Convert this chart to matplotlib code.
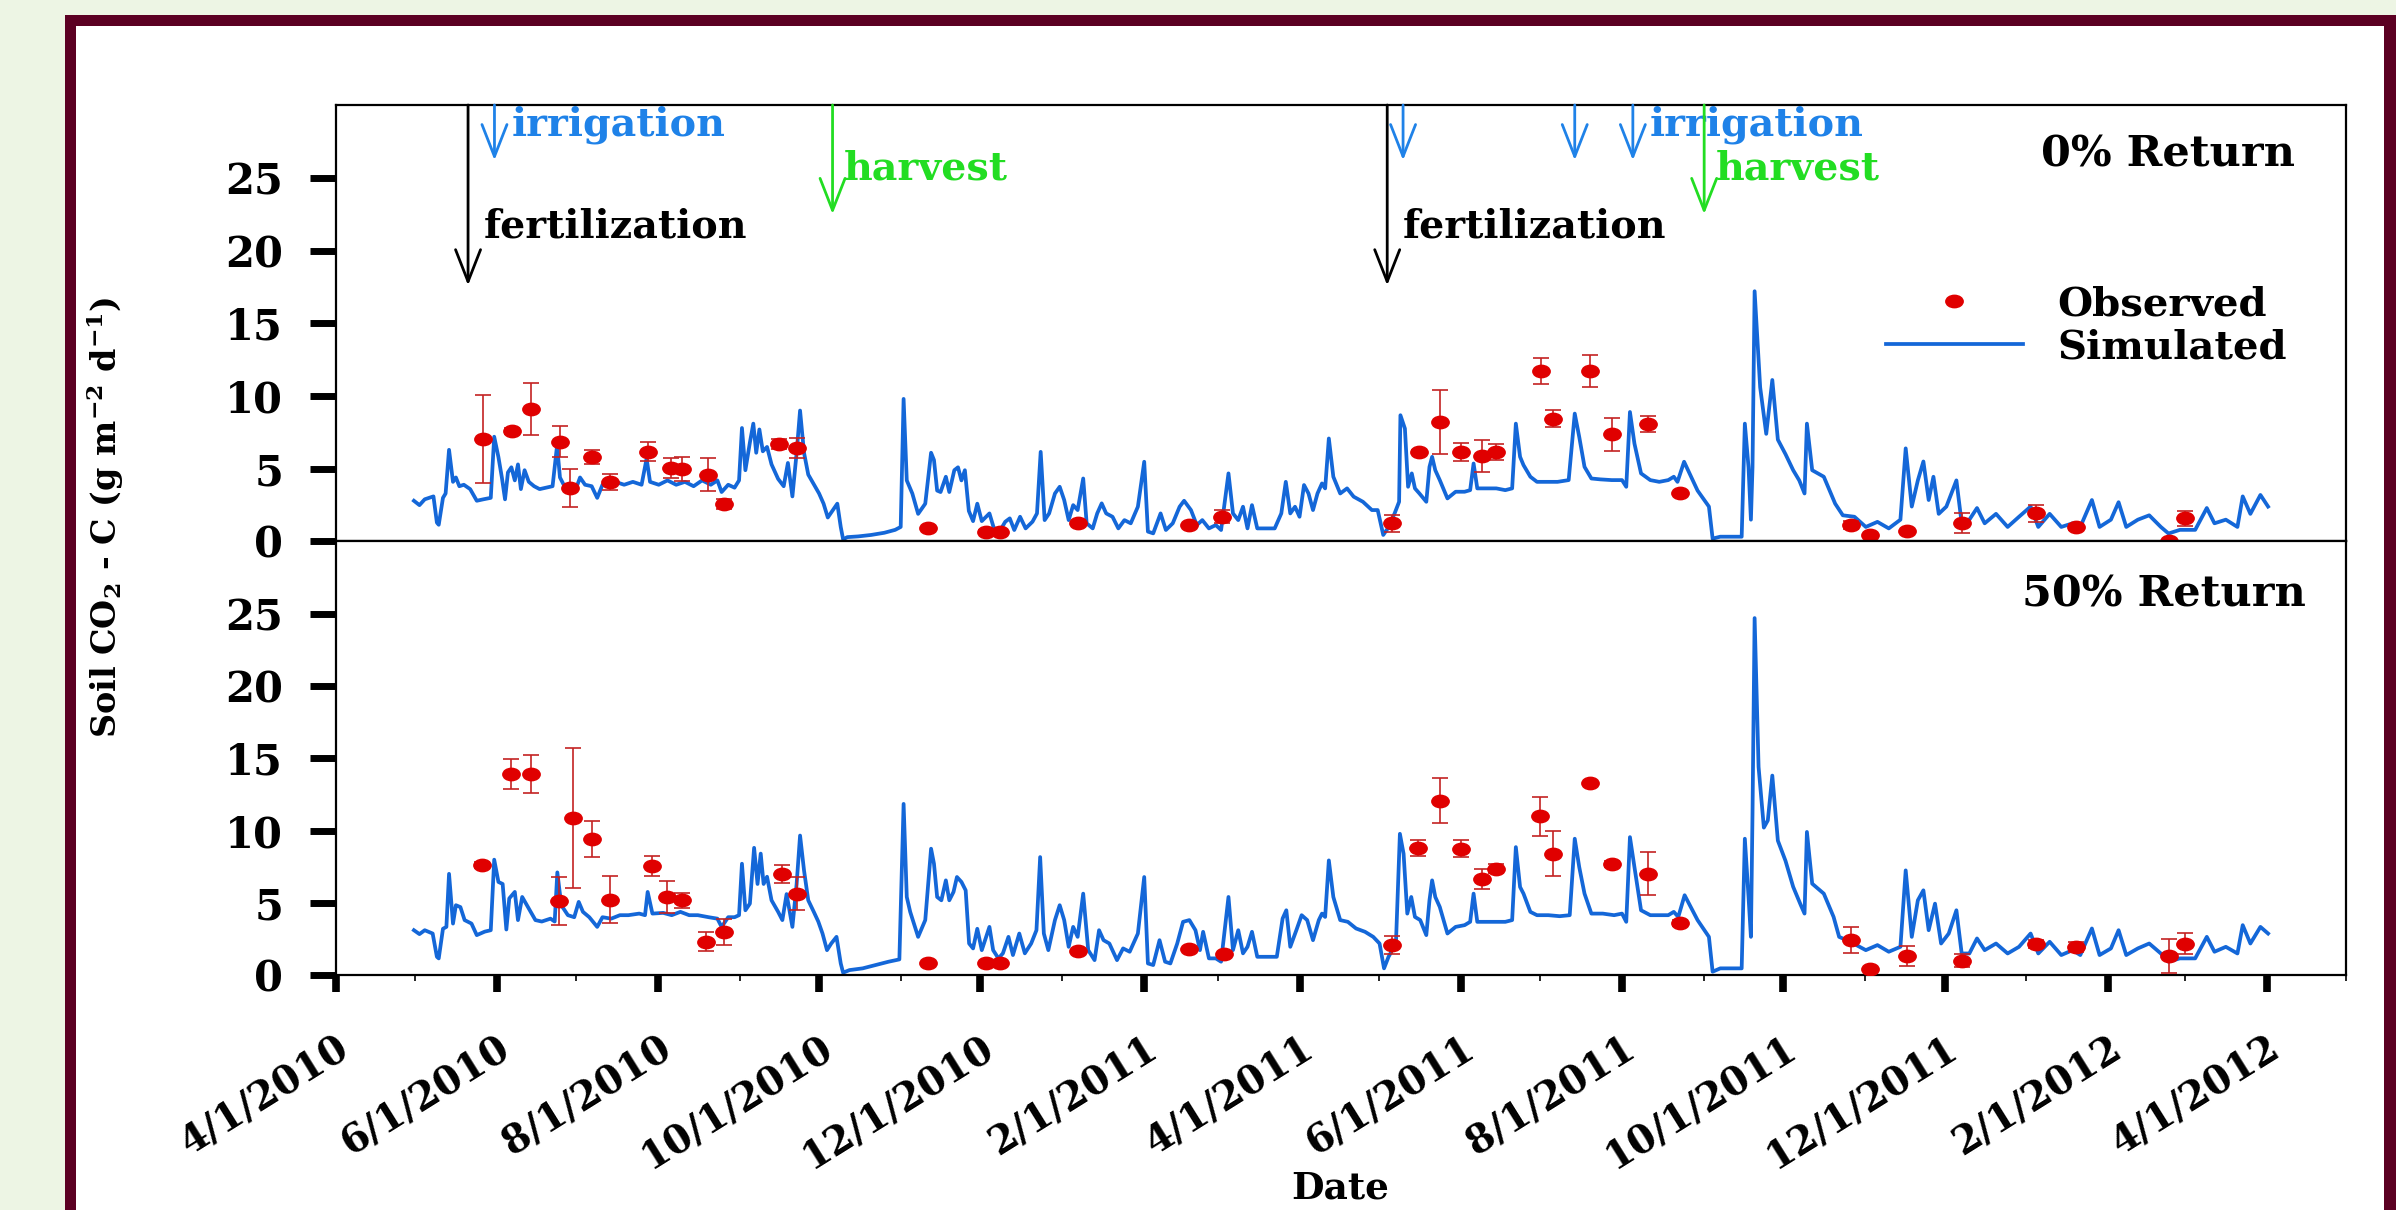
import datetime as dt
import matplotlib
matplotlib.use('Agg')
import matplotlib.pyplot as plt
import matplotlib.dates as mdates
from matplotlib.lines import Line2D
from matplotlib.patches import Rectangle
from matplotlib.path import Path
from matplotlib.transforms import Affine2D

# all days are counted from 4/1/2010
START = dt.datetime(2010, 4, 1)

# simulated soil CO2-C flux, 0% residue return (day, value)
sim_0 = [
    (29.5, 2.8), (31.6, 2.5), (33.6, 2.9), (36.9, 3.1), (38.2, 1.3), (38.9, 1.15), (40.5, 3.0), (41.5, 3.3),
    (42.8, 6.3), (44.3, 4.1), (45.4, 4.4), (46.7, 3.8), (48.4, 3.9), (50.8, 3.6), (53.3, 2.8), (55.8, 2.9),
    (58.6, 3.0), (59.9, 7.2), (61.5, 5.8), (62.8, 4.4), (64.0, 2.9), (65.1, 4.75), (66.4, 5.1), (67.7, 4.2),
    (68.9, 5.3), (70.0, 3.6), (71.4, 4.9), (73.0, 4.1), (75.0, 3.8), (77.1, 3.6), (79.6, 3.7), (82.0, 3.8),
    (83.7, 6.6), (84.8, 4.4), (86.5, 3.8), (88.6, 3.9), (91.0, 3.7), (92.4, 4.4), (94.3, 3.9), (96.8, 3.8),
    (98.9, 3.0), (100.9, 3.9), (103.4, 3.8), (105.8, 4.1), (109.1, 3.9), (112.4, 4.1), (115.7, 3.9), (117.6, 5.7),
    (118.9, 4.1), (122.2, 3.9), (125.5, 4.2), (128.8, 3.9), (132.1, 4.1), (135.4, 3.8), (138.6, 4.2), (141.9, 3.9),
    (144.4, 4.2), (146.0, 3.4), (148.5, 3.9), (150.9, 3.7), (152.6, 4.2), (153.7, 7.8), (155.0, 4.9), (156.7, 6.8),
    (158.0, 8.1), (159.1, 6.1), (160.3, 7.7), (161.6, 6.2), (163.2, 6.5), (164.9, 5.3), (167.4, 4.3), (169.5, 3.8),
    (171.1, 5.4), (172.8, 3.1), (174.4, 6.1), (175.7, 9.0), (177.2, 6.1), (178.8, 4.6), (181.3, 3.8), (182.9, 3.3),
    (184.6, 2.6), (186.2, 1.65), (187.9, 2.1), (189.8, 2.6), (191.1, 1.0), (192.0, 0.15), (193.6, 0.3), (197.7, 0.35),
    (202.6, 0.45), (207.6, 0.6), (211.7, 0.8), (213.8, 1.0), (214.9, 9.8), (216.1, 4.2), (218.2, 3.3), (220.4, 1.9),
    (223.1, 2.6), (225.3, 6.1), (226.4, 5.6), (227.6, 3.5), (228.9, 3.4), (230.9, 4.45), (232.2, 3.4), (234.1, 4.9),
    (235.5, 5.1), (236.8, 4.2), (238.1, 4.9), (239.6, 2.1), (241.2, 1.4), (242.8, 2.6), (244.5, 1.4),
    (247.4, 1.93), (249.1, 0.9), (251.7, 0.84), (253.4, 1.36), (255.1, 1.59), (256.8, 0.79), (259.0, 1.7), (261.1, 0.9),
    (263.7, 1.36), (265.4, 1.93), (266.8, 6.16), (268.3, 1.47), (270.0, 1.93), (272.2, 3.3), (274.0, 3.76), (275.7, 2.85),
    (277.4, 1.47), (279.1, 2.5), (280.8, 2.16), (282.9, 4.33), (284.2, 1.25), (286.5, 0.9), (288.2, 1.93), (289.9, 2.62),
    (291.6, 1.93), (294.0, 1.7), (296.2, 0.9), (298.5, 1.47), (300.9, 1.25), (303.6, 2.39), (306.0, 5.48), (307.4, 0.68),
    (309.4, 0.56), (312.2, 1.93), (314.2, 0.79), (316.8, 1.25), (319.4, 2.39), (321.1, 2.8), (323.7, 2.16), (325.9, 1.13),
    (328.0, 1.47), (330.5, 0.9), (333.1, 1.13), (335.1, 0.79), (337.9, 4.68), (339.6, 1.93), (341.6, 1.47), (343.4, 2.39),
    (345.1, 0.9), (346.8, 2.5), (348.8, 0.9), (351.9, 0.9), (355.4, 0.9), (357.9, 1.93), (359.6, 4.1), (361.3, 1.93),
    (363.1, 2.39), (364.8, 1.7), (366.5, 3.88), (368.2, 3.3), (369.9, 2.16), (371.6, 3.3), (373.3, 3.99), (374.5, 3.65),
    (375.9, 7.08), (377.6, 4.45), (380.2, 3.3), (382.8, 3.65), (385.3, 3.08), (388.8, 2.73), (392.2, 2.16), (394.4, 2.16),
    (396.5, 0.45), (398.2, 0.9), (400.8, 1.93), (402.5, 2.73), (403.0, 8.68), (404.7, 7.76), (405.9, 3.76), (407.3, 4.68),
    (408.5, 3.65), (410.2, 3.3), (412.8, 2.73), (414.0, 5.13), (415.0, 5.82), (416.2, 4.9), (417.9, 4.22), (420.8, 2.96),
    (423.9, 3.42), (427.3, 3.42), (429.4, 3.53), (430.7, 5.36), (432.1, 3.65), (435.9, 3.65), (439.3, 3.65), (442.7, 3.53),
    (445.3, 3.65), (446.7, 8.1), (448.3, 5.82), (449.6, 5.25), (452.2, 4.45), (454.7, 4.1), (458.2, 4.1), (462.5, 4.1),
    (466.7, 4.22), (469.0, 8.79), (470.7, 7.19), (472.7, 5.13), (475.3, 4.33), (478.7, 4.27), (483.0, 4.22), (486.9, 4.22),
    (488.5, 3.76), (489.9, 8.9), (491.6, 6.73), (494.1, 4.68), (497.6, 4.22), (501.0, 4.1), (504.4, 4.22), (506.5, 4.45),
    (507.9, 4.1), (510.4, 5.48),
    (515.5, 3.5), (519.8, 2.4), (521.2, 0.2), (524.1, 0.33), (532.2, 0.33), (533.4, 8.1), (534.8, 5.1), (535.7, 1.5),
    (536.3, 5.1), (537.1, 17.2), (539.2, 10.6), (541.5, 7.4), (543.8, 11.1), (545.9, 7.0), (548.8, 6.0), (551.7, 4.9),
    (554.0, 4.2), (556.0, 3.3), (556.9, 8.1), (558.9, 4.9), (563.3, 4.45), (567.6, 2.6), (570.5, 1.8), (574.9, 1.7),
    (579.2, 1.0), (583.6, 1.35), (587.9, 0.9), (592.3, 1.5), (594.3, 6.4), (596.6, 2.4), (598.9, 4.2), (601.0, 5.5),
    (603.0, 2.85), (604.8, 4.45), (606.8, 1.9), (609.7, 2.4), (613.5, 4.2), (615.5, 1.25), (618.4, 1.5), (621.3, 2.3),
    (624.2, 1.25), (628.5, 1.9), (632.9, 1.0), (637.2, 1.7), (641.6, 2.4), (644.5, 1.0), (648.8, 1.9), (653.2, 1.0),
    (657.5, 1.25), (660.4, 1.0), (664.8, 2.85), (667.7, 1.0), (672.0, 1.5), (674.9, 2.7), (677.8, 1.0), (682.2, 1.5),
    (686.5, 1.8), (690.9, 1.0), (693.8, 0.55), (698.1, 0.8), (703.9, 0.8), (708.3, 2.3), (711.2, 1.25), (715.5, 1.5),
    (719.9, 1.0), (721.9, 3.1), (724.8, 1.9), (728.6, 3.2), (731.5, 2.4),
]

# simulated soil CO2-C flux, 50% residue return (day, value)
sim_50 = [
    (29.5, 3.1), (31.6, 2.83), (33.6, 3.1), (36.6, 2.87), (38.2, 1.26), (38.9, 1.15), (40.5, 3.2), (41.8, 3.33),
    (42.8, 7.0), (44.3, 3.56), (45.4, 4.83), (47.1, 4.7), (48.7, 3.8), (51.3, 3.56), (53.3, 2.76), (56.3, 3.0),
    (58.6, 3.1), (59.9, 7.98), (61.5, 6.44), (63.1, 6.3), (64.5, 3.15), (65.6, 5.3), (67.7, 5.75), (68.9, 3.8),
    (70.5, 5.4), (72.7, 4.7), (75.5, 3.8), (77.9, 3.7), (81.2, 3.9), (82.8, 3.7), (83.8, 7.1), (85.3, 4.83),
    (87.8, 4.14), (90.2, 4.0), (91.9, 5.06), (93.5, 4.37), (95.9, 4.0), (98.9, 3.33), (100.9, 4.0), (104.2, 3.9),
    (107.5, 4.14), (110.7, 4.14), (114.8, 4.25), (117.0, 4.14), (118.0, 5.75), (119.8, 4.25), (123.9, 4.3), (127.1, 4.14),
    (130.4, 4.37), (133.7, 4.14), (137.0, 4.14), (141.1, 4.0), (144.4, 3.9), (146.0, 3.33), (148.5, 4.0), (150.9, 4.0),
    (152.6, 4.14), (153.7, 7.7), (155.0, 4.48), (156.7, 4.94), (158.3, 8.8), (159.6, 6.3), (160.8, 8.4), (161.9, 6.3),
    (163.2, 6.8), (164.9, 5.17), (167.4, 4.37), (169.0, 3.8), (170.6, 5.6), (172.8, 3.33), (174.4, 6.3), (175.7, 9.65),
    (177.2, 7.24), (178.8, 5.17), (180.9, 4.37), (182.6, 3.7), (184.2, 2.87), (185.9, 1.72), (187.5, 2.18), (189.5, 2.64),
    (191.1, 0.8), (192.0, 0.16), (194.4, 0.34), (199.4, 0.46), (204.3, 0.69), (209.2, 0.92), (213.3, 1.08), (214.9, 11.84),
    (216.1, 5.4), (217.4, 4.37), (220.4, 2.64), (223.1, 3.8), (225.3, 8.74), (226.4, 7.7), (227.6, 5.4), (229.2, 5.17),
    (230.9, 6.55), (232.2, 5.17), (233.8, 5.75), (235.1, 6.78), (236.8, 6.44), (238.4, 5.86), (239.7, 2.18), (241.2, 1.84),
    (242.8, 3.2), (244.5, 1.72),
    (247.4, 3.33), (248.8, 1.72), (250.8, 1.15), (252.5, 1.5), (254.6, 2.64), (256.3, 1.38), (258.7, 2.87), (260.8, 1.5),
    (263.2, 2.18), (265.2, 3.1), (266.6, 8.16), (268.0, 2.87), (269.7, 1.72), (272.2, 3.8), (274.0, 4.83), (275.7, 3.8),
    (277.4, 1.95), (279.1, 3.33), (280.8, 2.64), (282.9, 5.63), (284.8, 1.72), (287.2, 1.03), (288.9, 3.1), (290.6, 2.41),
    (292.8, 2.18), (295.7, 1.03), (298.0, 1.84), (300.5, 1.61), (303.6, 2.87), (306.0, 6.78), (307.4, 0.8), (309.4, 0.69),
    (311.8, 2.41), (313.9, 0.92), (315.9, 0.8), (318.5, 2.18), (320.7, 3.68), (323.1, 3.8), (325.4, 3.1), (327.1, 1.72),
    (328.3, 2.99), (330.5, 1.15), (333.1, 1.15), (335.1, 0.92), (337.9, 5.4), (339.6, 1.72), (341.6, 3.1), (343.4, 1.5),
    (345.1, 1.95), (346.8, 2.99), (348.8, 1.26), (351.9, 1.26), (356.2, 1.26), (358.4, 3.91), (359.8, 4.48), (361.3, 1.95),
    (363.6, 3.1), (365.6, 4.14), (367.7, 3.8), (369.9, 2.41), (372.1, 3.8), (373.3, 4.25), (374.5, 4.02), (375.9, 7.93),
    (377.6, 5.4), (380.2, 3.8), (383.1, 3.68), (386.2, 3.22), (389.6, 2.99), (392.7, 2.64), (395.1, 2.18), (396.8, 0.46),
    (398.5, 1.26), (401.3, 2.18), (402.8, 9.77), (404.2, 8.39), (405.6, 4.25), (407.1, 5.4), (408.5, 4.02), (410.5, 3.8),
    (412.8, 2.76), (414.0, 5.17), (415.0, 6.55), (416.2, 5.4), (417.9, 4.71), (420.8, 2.87), (423.9, 3.33), (427.3, 3.45),
    (429.4, 3.68), (430.7, 5.63), (432.1, 3.68), (435.9, 3.68), (439.3, 3.68), (442.7, 3.68), (445.3, 3.8), (446.7, 8.85),
    (448.3, 6.09), (449.6, 5.63), (452.2, 4.37), (454.7, 4.14), (459.0, 4.14), (463.3, 4.07), (467.1, 4.14), (469.0, 9.43),
    (470.7, 7.47), (472.7, 5.63), (475.3, 4.25), (479.6, 4.25), (483.9, 4.14), (486.9, 4.25), (488.5, 3.68), (489.9, 9.54),
    (491.6, 7.47), (494.1, 4.48), (497.6, 4.14), (501.0, 4.14), (504.4, 4.14), (506.5, 4.37), (508.2, 4.02), (510.6, 5.52),
    (515.5, 3.8), (519.8, 2.64), (521.2, 0.23), (524.1, 0.46), (532.2, 0.46), (533.4, 9.43), (534.8, 5.4), (535.7, 2.64),
    (536.3, 11.15), (537.1, 24.7), (538.6, 14.4), (540.6, 10.2), (542.1, 10.7), (543.8, 13.8), (545.9, 9.3), (548.8, 7.9),
    (551.7, 6.1), (554.6, 4.83), (556.0, 4.25), (556.9, 9.9), (558.9, 6.32), (563.3, 5.63), (567.0, 4.02), (569.1, 2.64),
    (573.5, 2.28), (579.2, 1.72), (583.6, 2.07), (587.9, 1.61), (592.3, 1.95), (594.3, 7.24), (596.6, 2.64), (598.9, 5.17),
    (601.0, 5.86), (603.0, 3.1), (605.4, 4.94), (607.7, 2.18), (610.6, 2.87), (613.5, 4.48), (615.5, 1.49), (618.4, 1.49),
    (621.3, 2.53), (624.2, 1.72), (628.5, 2.18), (632.9, 1.49), (637.2, 1.95), (641.6, 2.87), (644.5, 1.49), (648.8, 2.3),
    (653.2, 1.38), (657.5, 1.72), (660.4, 1.38), (664.8, 3.22), (667.7, 1.38), (672.0, 1.84), (674.9, 3.1), (677.8, 1.38),
    (682.2, 1.84), (686.5, 2.18), (690.9, 1.49), (693.8, 0.92), (698.1, 1.15), (703.9, 1.15), (708.3, 2.64), (711.2, 1.61),
    (715.5, 1.95), (719.9, 1.49), (721.9, 3.45), (724.8, 2.18), (728.6, 3.33), (731.5, 2.87),
]

# observed flux (day, mean, error)
obs_0 = [
    (55.8, 7.04, 3.0), (66.6, 7.59, 0.2), (73.8, 9.1, 1.8), (84.8, 6.86, 1.05), (88.6, 3.7, 1.3),
    (97.0, 5.83, 0.48), (103.8, 4.1, 0.57), (118.1, 6.17, 0.65), (126.8, 5.05, 0.7), (130.9, 4.98, 0.8),
    (140.8, 4.59, 1.14), (146.8, 2.57, 0.37), (167.8, 6.7, 0.35), (174.4, 6.42, 0.7), (224.0, 0.9, 0.0),
    (246.0, 0.67, 0.15), (251.5, 0.67, 0.15), (280.8, 1.25, 0.0), (322.8, 1.13, 0.0), (335.6, 1.7, 0.45),
    (399.9, 1.25, 0.6), (410.2, 6.16, 0.15), (417.9, 8.22, 2.2), (426.0, 6.16, 0.64), (433.8, 5.86, 1.1),
    (439.0, 6.16, 0.55), (456.1, 11.72, 0.87), (460.7, 8.45, 0.57), (474.9, 11.72, 1.12), (483.0, 7.37, 1.14),
    (496.7, 8.1, 0.55), (508.7, 3.3, 0.0), (573.7, 1.13, 0.3), (580.9, 0.45, 0.0), (594.7, 0.74, 0.0),
    (615.6, 1.25, 0.7), (643.8, 1.93, 0.6), (658.9, 1.0, 0.2), (694.1, 0.06, 0.0), (699.9, 1.59, 0.53),
]
obs_50 = [
    (55.4, 7.59, 0.2), (66.4, 13.9, 1.06), (74.0, 13.9, 1.3), (84.6, 5.13, 1.64), (89.9, 10.85, 4.85),
    (97.0, 9.43, 1.26), (103.8, 5.22, 1.6), (119.8, 7.52, 0.7), (125.5, 5.4, 1.1), (130.9, 5.17, 0.5),
    (139.9, 2.3, 0.65), (146.8, 2.99, 0.9), (168.8, 7.0, 0.6), (174.7, 5.63, 1.15), (224.0, 0.85, 0.0),
    (246.0, 0.85, 0.0), (251.5, 0.85, 0.0), (280.8, 1.66, 0.0), (322.8, 1.77, 0.0), (336.2, 1.43, 0.0),
    (399.9, 2.07, 0.63), (409.8, 8.8, 0.57), (417.9, 12.07, 1.55), (426.0, 8.74, 0.57), (433.8, 6.67, 0.69),
    (439.0, 7.36, 0.3), (455.9, 10.97, 1.36), (460.9, 8.39, 1.56), (474.9, 13.26, 0.0), (483.0, 7.66, 0.2),
    (496.9, 7.01, 1.47), (508.7, 3.61, 0.2), (573.7, 2.41, 0.92), (580.9, 0.39, 0.0), (594.7, 1.31, 0.67),
    (615.6, 0.97, 0.45), (643.8, 2.14, 0.3), (658.9, 1.95, 0.35), (694.1, 1.31, 1.2), (699.9, 2.18, 0.74),
]

tick_labels = ['4/1/2010', '6/1/2010', '8/1/2010', '10/1/2010', '12/1/2010', '2/1/2011', '4/1/2011',
               '6/1/2011', '8/1/2011', '10/1/2011', '12/1/2011', '2/1/2012', '4/1/2012']
yticks = [0, 5, 10, 15, 20, 25]

fert_dates = ['5/21/2010', '5/4/2011']
irrig_dates = ['5/31/2010', '5/10/2011', '7/14/2011', '8/5/2011']
harvest_dates = ['10/6/2010', '9/1/2011']

RED = '#e00000'
ERR = '#c42222'
BLUE = '#1467d8'
IRR = '#1f82e8'
GREEN = '#22dd22'

plt.rcParams['font.family'] = 'DejaVu Serif'
plt.rcParams['font.weight'] = 'bold'
plt.rcParams['mathtext.fontset'] = 'custom'
plt.rcParams['mathtext.rm'] = 'DejaVu Serif:bold'
plt.rcParams['mathtext.it'] = 'DejaVu Serif:bold'
plt.rcParams['mathtext.bf'] = 'DejaVu Serif:bold'

# the observed dots are a little wider than tall
DOT = Path.unit_circle().transformed(Affine2D().scale(1.4, 1.0))


def to_num(s):
    return mdates.date2num(dt.datetime.strptime(s, '%m/%d/%Y'))


base = mdates.date2num(START)

fig = plt.figure(figsize=(23.96, 12.10), dpi=100, facecolor='#edf5e4')
fig.add_artist(Rectangle((0.0271, -0.02), 1.0, 1.0076, transform=fig.transFigure,
                         facecolor='#5b0022', edgecolor='none', zorder=-2))
fig.add_artist(Rectangle((0.0317, -0.02), 0.9633, 0.9985, transform=fig.transFigure,
                         facecolor='white', edgecolor='none', zorder=-1))

ax1 = fig.add_axes([0.14023, 0.55248, 0.83890, 0.36074])
ax2 = fig.add_axes([0.14023, 0.19421, 0.83890, 0.35827])

major_pos = [to_num(s) for s in tick_labels]

for ax, sim, obs in ((ax1, sim_0, obs_0), (ax2, sim_50, obs_50)):
    ax.plot([base + d for d, v in sim], [v for d, v in sim], color=BLUE, lw=2.7, zorder=2)
    ox = [base + d for d, v, e in obs]
    oy = [v for d, v, e in obs]
    ax.errorbar(ox, oy, yerr=[e for d, v, e in obs], fmt='none', ecolor=ERR, elinewidth=1.2,
                capsize=6, capthick=1.2, zorder=3)
    ax.plot(ox, oy, ls='none', marker=DOT, ms=12.5, color=RED, mec=RED, zorder=4)
    ax.set_xlim(base, to_num('5/1/2012'))
    ax.set_ylim(0, 30)
    ax.set_yticks(yticks)
    ax.tick_params(axis='y', direction='out', length=19, width=5, pad=19, labelsize=30)
    ax.xaxis.set_minor_locator(mdates.MonthLocator())
    for sp in ax.spines.values():
        sp.set_linewidth(1.6)

ax1.set_xticks(major_pos)
ax1.tick_params(axis='x', which='both', direction='out', length=4.5, width=1.2, labelbottom=False)

ax2.set_xticks(major_pos, tick_labels, rotation=32, ha='right', va='top', rotation_mode='anchor')
ax2.tick_params(axis='x', which='major', direction='out', length=12, width=5.5, pad=27, labelsize=28)
ax2.tick_params(axis='x', which='minor', direction='out', length=4, width=1.2)


def event_arrow(ax, s, tip, color):
    x = to_num(s)
    ax.annotate('', xy=(x, tip), xytext=(x, 30),
                arrowprops=dict(arrowstyle='->,head_length=1.15,head_width=0.45', color=color, lw=2,
                                mutation_scale=20, shrinkA=0, shrinkB=0),
                annotation_clip=False)


for s in fert_dates:
    event_arrow(ax1, s, 17.6, 'black')
    ax1.annotate('fertilization', xy=(to_num(s), 20.9), xytext=(11, 0), textcoords='offset points',
                 va='baseline', ha='left', fontsize=28.5, color='black')
for s in irrig_dates:
    event_arrow(ax1, s, 26.2, IRR)
for s in (irrig_dates[0], irrig_dates[-1]):
    ax1.annotate('irrigation', xy=(to_num(s), 27.9), xytext=(12, 0), textcoords='offset points',
                 va='baseline', ha='left', fontsize=28.5, color=IRR)
for s in harvest_dates:
    event_arrow(ax1, s, 22.5, GREEN)
    ax1.annotate('harvest', xy=(to_num(s), 24.9), xytext=(8, 0), textcoords='offset points',
                 va='baseline', ha='left', fontsize=28.5, color=GREEN)

ax1.text(0.9746, 0.859, '0% Return', transform=ax1.transAxes, ha='right', va='baseline', fontsize=31)
ax2.text(0.980, 0.851, '50% Return', transform=ax2.transAxes, ha='right', va='baseline', fontsize=31)

handles = [Line2D([], [], ls='none', marker=DOT, ms=12.5, color=RED),
           Line2D([], [], color=BLUE, lw=2.7)]
ax1.legend(handles, ['Observed', 'Simulated'], loc='center left', bbox_to_anchor=(0.771, 0.494),
           frameon=False, fontsize=29, handlelength=3.4, handletextpad=0.85, labelspacing=0.12,
           borderpad=0, borderaxespad=0)

fig.text(0.0442, 0.5727, 'Soil CO$_2$ - C (g m$^{-2}$ d$^{-1}$)', rotation=90,
         ha='center', va='center', fontsize=24)
fig.text(0.5593, 0.003, 'Date', ha='center', va='bottom', fontsize=27)

fig.savefig('out.png', dpi=100, facecolor=fig.get_facecolor())
